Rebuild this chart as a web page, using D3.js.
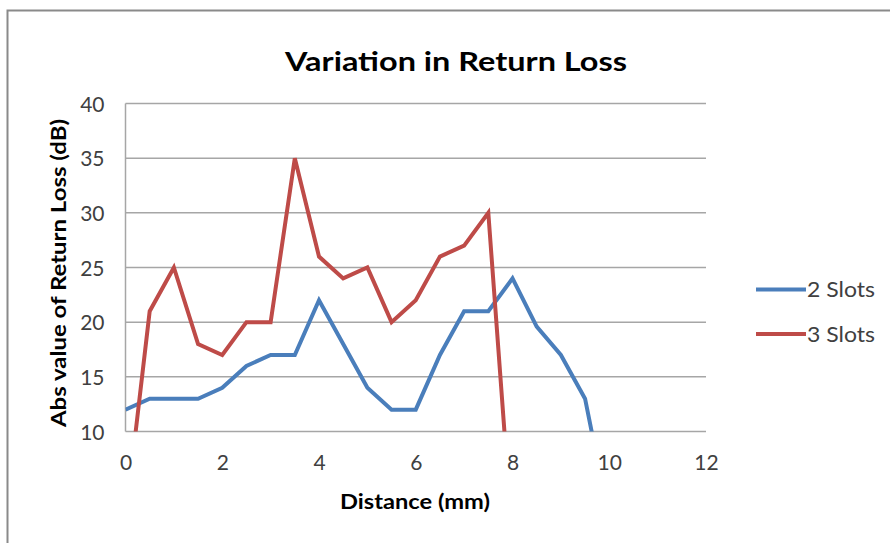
<!DOCTYPE html>
<html><head><meta charset="utf-8">
<script src="https://cdn.jsdelivr.net/npm/d3@7/dist/d3.min.js"></script>
<style>
html,body{margin:0;padding:0;background:#fff;}
svg{display:block;font-family:Lato,"Open Sans",sans-serif;}
</style></head>
<body><svg id="c" width="890" height="543"></svg>
<script>
const distance = [0,0.5,1,1.5,2,2.5,3,3.5,4,4.5,5,5.5,6,6.5,7,7.5,8,8.5,9,9.5,10];
const slots2 = [12,13,13,13,14,16,17,17,22,18,14,12,12,17,21,21,24,19.6,17,13,2];
const distance3 = [0,0.5,1,1.5,2,2.5,3,3.5,4,4.5,5,5.5,6,6.5,7,7.5,8];
const slots3 = [2,21,25,18,17,20,20,35,26,24,25,20,22,26,27,30,0];
const seriesNames = ["2 Slots","3 Slots"];
const seriesColors = ["#4A7EBB","#BE4B48"];
const xTicks = [0,2,4,6,8,10,12];
const yTicks = [10,15,20,25,30,35,40];
const title = "Variation in Return Loss";
const xTitle = "Distance (mm)";
const yTitle = "Abs value of Return Loss (dB)";

const svg = d3.select("#c");
const m = {l:125.5, r:706, t:103.5, b:431.5};
const x = d3.scaleLinear().domain([0,12]).range([m.l,m.r]);
const y = d3.scaleLinear().domain([10,40]).range([m.b,m.t]);

// frame
svg.append("path").attr("d","M7.5,543 L7.5,10.5 L890,10.5")
  .attr("fill","none").attr("stroke","#8a8a8a").attr("stroke-width",2);

// title
svg.append("text").attr("x",456).attr("y",71).attr("text-anchor","middle")
  .attr("font-size",27).attr("font-weight","bold").attr("fill","#000")
  .attr("textLength",342).attr("lengthAdjust","spacingAndGlyphs").text(title);

// gridlines
svg.append("g").selectAll("line").data(yTicks).join("line")
  .attr("x1",m.l).attr("x2",m.r).attr("y1",d=>y(d)).attr("y2",d=>y(d))
  .attr("stroke","#a6a6a6").attr("stroke-width",1.5);
// y axis line
svg.append("line").attr("x1",m.l).attr("x2",m.l).attr("y1",m.t).attr("y2",m.b)
  .attr("stroke","#a6a6a6").attr("stroke-width",1.5);

// y ticks
const ya = svg.append("g").attr("transform",`translate(${m.l},0)`)
  .call(d3.axisLeft(y).tickValues(yTicks).tickSize(0).tickPadding(21));
ya.select(".domain").remove();
ya.selectAll("text").attr("font-size",21).attr("fill","#404040").attr("font-family","Lato,'Open Sans',sans-serif").attr("dy","0.36em");

// x ticks
const xa = svg.append("g").attr("transform",`translate(0,${m.b})`)
  .call(d3.axisBottom(x).tickValues(xTicks).tickSize(0).tickPadding(26));
xa.select(".domain").remove();
xa.selectAll("text").attr("font-size",21).attr("fill","#404040").attr("font-family","Lato,'Open Sans',sans-serif").attr("dy","0.6em");

// axis titles
svg.append("text").attr("x",415).attr("y",509).attr("text-anchor","middle")
  .attr("font-size",20).attr("font-weight","bold").attr("fill","#000")
  .attr("textLength",150).attr("lengthAdjust","spacingAndGlyphs").text(xTitle);
svg.append("text").attr("transform","translate(66,273) rotate(-90)").attr("text-anchor","middle")
  .attr("font-size",20).attr("font-weight","bold").attr("fill","#000")
  .attr("textLength",308).attr("lengthAdjust","spacingAndGlyphs").text(yTitle);

// clip
svg.append("clipPath").attr("id","clip").append("rect")
  .attr("x",m.l).attr("y",m.t-4).attr("width",m.r-m.l+4).attr("height",m.b-m.t+4);

const line = d3.line().x(d=>x(d[0])).y(d=>y(d[1]));
const data = [d3.zip(distance,slots2), d3.zip(distance3,slots3)];
svg.append("g").attr("clip-path","url(#clip)").selectAll("path").data(data).join("path")
  .attr("d",line).attr("fill","none").attr("stroke",(d,i)=>seriesColors[i])
  .attr("stroke-width",4).attr("stroke-linejoin","miter");

// legend
const lg = svg.append("g").selectAll("g").data(seriesNames).join("g")
  .attr("transform",(d,i)=>`translate(756,${289.5+i*44.5})`);
lg.append("line").attr("x1",0).attr("x2",50).attr("stroke",(d,i)=>seriesColors[i]).attr("stroke-width",4);
lg.append("text").attr("x",51).attr("dy","0.36em").attr("font-size",22).attr("fill","#404040")
  .attr("textLength",68).attr("lengthAdjust","spacingAndGlyphs").text(d=>d);
</script></body></html>
